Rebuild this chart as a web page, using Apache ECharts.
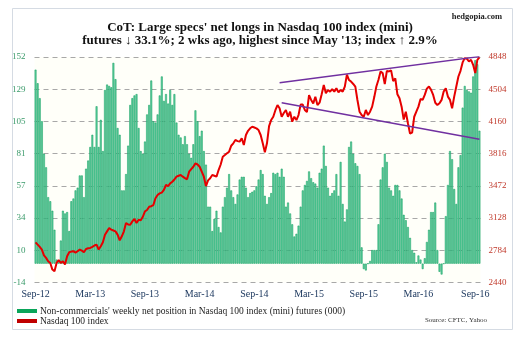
<!DOCTYPE html>
<html><head><meta charset="utf-8">
<script src="https://cdn.jsdelivr.net/npm/echarts@6/dist/echarts.min.js"></script>
<style>html,body{margin:0;padding:0;background:#fff}#c{width:520px;height:338px}</style>
</head><body><div id="c"></div>
<script>
// ---- data ----
const startDate = '2012-09-04';   // first weekly CoT report shown
const weekCount = 212;
const tickLabels = ['Sep-12','Mar-13','Sep-13','Mar-14','Sep-14','Mar-15','Sep-15','Mar-16','Sep-16'];
const leftTicks = { min: -13.9, max: 152.35, step: 23.75 };   // labels -14 .. 152
const rightTicks = { min: 2440, max: 4848, step: 344 };

const netLongs = [
  143,133,122,105,81,71,49,46,39,25,3,2,17,39,37,38,24,46,48,54,56,65,65,49,70,76,86,95,86,116,86,106,83,128,132,131,130,148,136,100,95,54,54,66,87,117,122,124,125,100,83,81,90,
  110,117,135,105,104,110,124,138,120,125,118,128,117,125,104,95,93,88,94,88,81,78,88,113,105,94,98,83,73,42,42,24,33,39,27,23,42,49,56,66,54,49,44,51,62,64,64,56,49,
  52,53,54,57,62,69,66,50,44,49,52,67,66,67,64,70,64,42,45,37,29,20,22,28,42,54,58,61,68,63,60,59,56,67,70,87,72,56,50,52,54,66,50,75,44,31,40,86,90,81,74,72,66,12,-4,
  -5,0,2,10,10,10,29,62,71,81,75,56,54,50,58,58,54,48,36,32,27,19,10,8,1,6,3,-4,4,16,25,38,38,45,10,-6,-8,0,35,58,83,77,55,44,71,80,115,131,128,127,126,138,150,147,98
];
const indexLevels = [
  2869,2845,2820,2792,2730,2703,2667,2649,2578,2561,2649,2678,2649,2667,2632,2720,2763,2770,2774,2760,2774,2792,2780,2763,2798,2805,2809,2820,2835,2845,2792,2827,2869,2950,2986,3022,3004,2995,2986,2951,2890,2933,2986,3075,3060,3057,3093,3118,3075,3110,3104,3142,3200,
  3214,3249,3255,3267,3340,3374,3392,3400,3428,3481,3470,3499,3516,3540,3570,3580,3588,3570,3555,3542,3623,3650,3676,3712,3700,3676,3623,3570,3470,3530,3553,3588,3580,3570,3641,3700,3783,3801,3820,3837,3900,3926,3962,3950,3944,3980,3908,4015,4060,
  4087,4104,4095,4086,4068,4015,3926,3830,3926,4110,4175,4210,4280,4335,4300,4210,4250,4282,4210,4264,4157,4210,4175,4228,4340,4340,4282,4260,4442,4389,4353,4424,4335,4360,4450,4549,4460,4496,4478,4505,4478,4514,4470,4496,4478,4531,4660,4602,4585,4560,4531,4389,4264,4229,4210,
  4282,4228,4264,4318,4420,4533,4605,4694,4676,4560,4700,4694,4705,4590,4620,4450,4407,4318,4180,4264,4140,4031,4040,4210,4264,4318,4400,4390,4443,4510,4533,4497,4443,4360,4336,4354,4390,4479,4515,4425,4390,4300,4425,4533,4640,4700,4790,4836,4830,4800,4818,4765,4676,4818,4845
];
const trendUpper = [['2014-11-25', 4574], ['2016-09-20', 4852]];
const trendLower = [['2014-12-02', 4360], ['2016-09-20', 3969]];

const barName = "Non-commercials' weekly net position in Nasdaq 100 index (mini) futures (000)";
const lineName = 'Nasdaq 100 index';

// ---- build categories (weekly dates) ----
const MONTHS = ['Jan','Feb','Mar','Apr','May','Jun','Jul','Aug','Sep','Oct','Nov','Dec'];
const categories = [];
const base = Date.parse(startDate + 'T00:00:00Z');
for (let k = 0; k < weekCount; k++) {
  categories.push(new Date(base + k * 7 * 86400000).toISOString().slice(0, 10));
}
function monthLabel(s) {
  const d = new Date(s + 'T00:00:00Z');
  return MONTHS[d.getUTCMonth()] + '-' + String(d.getUTCFullYear()).slice(2);
}
const labelIdx = new Set(), seen = new Set();
categories.forEach((c, i) => {
  const m = monthLabel(c);
  if (tickLabels.includes(m) && !seen.has(m)) { seen.add(m); labelIdx.add(i); }
});

const SERIF = "'Liberation Serif','Times New Roman',serif";
const chart = echarts.init(document.getElementById('c'), null, { renderer: 'canvas' });
chart.setOption({
  backgroundColor: '#ffffff',
  animation: false,
  title: {
    text: "CoT: Large specs' net longs in Nasdaq 100 index (mini)\nfutures \u2193 33.1%; 2 wks ago, highest since May '13; index \u2191 2.9%",
    left: 'center', top: 16,
    textStyle: { fontFamily: SERIF, fontWeight: 'bold', fontSize: 13, lineHeight: 13, color: '#111' }
  },
  legend: {
    orient: 'vertical', left: 17, top: 306, itemGap: 0, itemWidth: 20, itemHeight: 4, padding: 0,
    data: [{ name: barName, icon: 'rect', itemStyle: { color: '#0aa55a', borderWidth: 0 } },
           { name: lineName, icon: 'rect', itemStyle: { color: '#c00000' } }],
    textStyle: { fontFamily: SERIF, fontSize: 9.5, color: '#222', lineHeight: 9, padding: [0, 0, 0, -2] }
  },
  grid: { left: 34.5, right: 39.5, top: 57, bottom: 55.5, show: true, borderWidth: 0, backgroundColor: '#fffff9' },
  xAxis: {
    type: 'category', data: categories, boundaryGap: true,
    axisLine: { show: false }, axisTick: { show: false }, splitLine: { show: false },
    axisLabel: {
      interval: (i) => labelIdx.has(i), formatter: (v) => monthLabel(v),
      fontFamily: SERIF, fontSize: 10, color: '#1f3a60', margin: 7
    }
  },
  yAxis: [
    {
      type: 'value', position: 'left', min: leftTicks.min, max: leftTicks.max, interval: leftTicks.step,
      axisLine: { show: false }, axisTick: { show: false },
      axisLabel: { formatter: (v) => String(Math.round(v)), fontFamily: SERIF, fontSize: 9, color: '#3a9a6a', margin: 9 },
      splitLine: { show: true, lineStyle: { type: [5, 4], color: '#a8a8a8', width: 1 } }
    },
    {
      type: 'value', position: 'right', min: rightTicks.min, max: rightTicks.max, interval: rightTicks.step,
      axisLine: { show: false }, axisTick: { show: false }, splitLine: { show: false },
      axisLabel: { formatter: (v) => String(Math.round(v)), fontFamily: SERIF, fontSize: 9, color: '#c0392b', margin: 8 }
    }
  ],
  series: [
    {
      name: barName, type: 'bar', yAxisIndex: 0, data: netLongs, barCategoryGap: '12%',
      itemStyle: { color: '#62d0a2', borderColor: '#0a9a5a', borderWidth: 0.5 }
    },
    {
      name: lineName, type: 'line', yAxisIndex: 1, data: indexLevels, symbol: 'none', z: 4,
      lineStyle: { color: '#e60000', width: 2 }, itemStyle: { color: '#e60000' }
    },
    {
      name: 'upper', type: 'line', yAxisIndex: 1, data: trendUpper, symbol: 'none', z: 5, silent: true,
      lineStyle: { color: '#7030a0', width: 1.5 }
    },
    {
      name: 'lower', type: 'line', yAxisIndex: 1, data: trendLower, symbol: 'none', z: 5, silent: true,
      lineStyle: { color: '#7030a0', width: 1.5 }
    }
  ],
  graphic: [
    { type: 'rect', left: 10, top: 6, shape: { width: 500, height: 321 }, style: { fill: 'none', stroke: '#d5dbe3', lineWidth: 1 }, silent: true },
    { type: 'text', right: 18, top: 12, style: { text: 'hedgopia.com', font: "bold 8.5px 'Liberation Serif'", fill: '#222' } },
    { type: 'text', right: 33, top: 317, style: { text: 'Source: CFTC, Yahoo', font: "7px 'Liberation Serif'", fill: '#333' } }
  ]
});
</script>
</body></html>
